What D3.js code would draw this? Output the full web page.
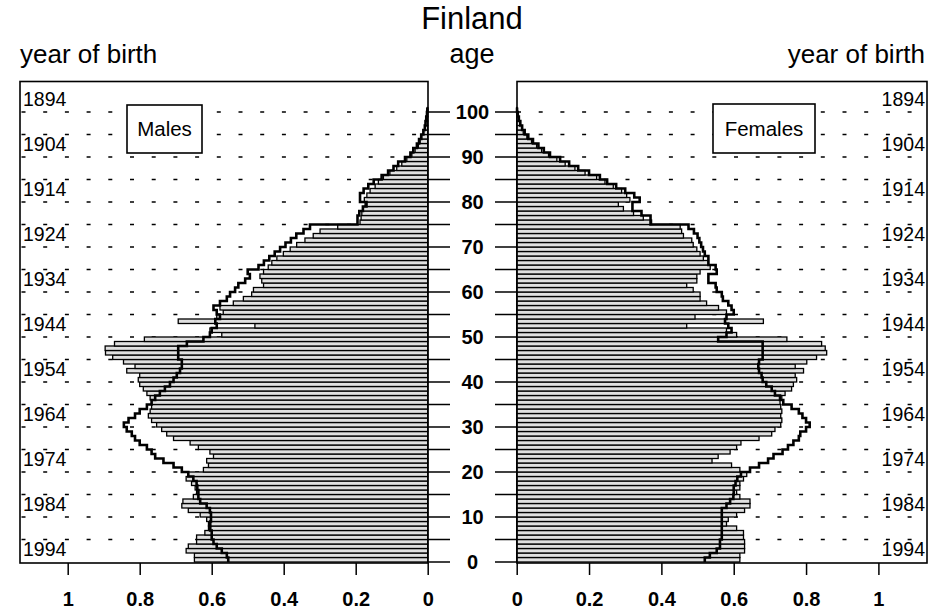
<!DOCTYPE html>
<html>
<head>
<meta charset="utf-8">
<script src="https://cdnjs.cloudflare.com/ajax/libs/d3/7.8.5/d3.min.js"></script>
<style>
  body { margin: 0; background: #fff; }
  svg { font-family: "Liberation Sans", Arial, Helvetica, sans-serif; }
</style>
</head>
<body>
<div id="chart"></div>
<script>
// ages 0..100, relative population
var ages = d3.range(0, 101);

var maleBars = [
  0.648, 0.648, 0.671, 0.665, 0.642, 0.642, 0.619, 0.609, 0.609, 0.614,
  0.632, 0.665, 0.683, 0.680, 0.651, 0.642, 0.646, 0.656, 0.671, 0.665,
  0.623, 0.609, 0.614, 0.595, 0.605, 0.637, 0.660, 0.706, 0.725, 0.739,
  0.753, 0.767, 0.776, 0.771, 0.767, 0.767, 0.771, 0.780, 0.790, 0.800,
  0.804, 0.800, 0.836, 0.813, 0.845, 0.875, 0.895, 0.896, 0.870, 0.787,
  0.572, 0.605, 0.480, 0.693, 0.586, 0.568, 0.577, 0.540, 0.512, 0.489,
  0.484, 0.456, 0.461, 0.466, 0.456, 0.443, 0.433, 0.419, 0.401, 0.382,
  0.364, 0.341, 0.318, 0.299, 0.250, 0.188, 0.185, 0.183, 0.179, 0.174,
  0.176, 0.169, 0.160, 0.146, 0.137, 0.123, 0.105, 0.086, 0.072, 0.058,
  0.044, 0.035, 0.026, 0.021, 0.017, 0.012, 0.008, 0.006, 0.004, 0.002,
  0.001
];

var maleLine = [
  0.554, 0.558, 0.572, 0.586, 0.595, 0.600, 0.600, 0.604, 0.604, 0.602,
  0.602, 0.605, 0.614, 0.632, 0.637, 0.637, 0.640, 0.642, 0.651, 0.665,
  0.683, 0.706, 0.734, 0.757, 0.767, 0.780, 0.800, 0.813, 0.822, 0.836,
  0.844, 0.831, 0.813, 0.800, 0.780, 0.767, 0.757, 0.744, 0.730, 0.716,
  0.706, 0.697, 0.688, 0.683, 0.683, 0.693, 0.693, 0.693, 0.669, 0.623,
  0.605, 0.600, 0.586, 0.590, 0.577, 0.586, 0.595, 0.577, 0.558, 0.549,
  0.535, 0.526, 0.507, 0.494, 0.500, 0.470, 0.455, 0.440, 0.425, 0.410,
  0.395, 0.380, 0.365, 0.345, 0.327, 0.195, 0.195, 0.190, 0.180, 0.170,
  0.188, 0.188, 0.178, 0.165, 0.150, 0.128, 0.110, 0.095, 0.082, 0.063,
  0.048, 0.040, 0.030, 0.024, 0.018, 0.012, 0.008, 0.006, 0.004, 0.002,
  0.001
];

var femaleBars = [
  0.617, 0.617, 0.630, 0.630, 0.630, 0.627, 0.627, 0.608, 0.580, 0.585,
  0.608, 0.630, 0.645, 0.645, 0.617, 0.608, 0.617, 0.617, 0.627, 0.636,
  0.617, 0.594, 0.540, 0.557, 0.590, 0.608, 0.620, 0.670, 0.705, 0.714,
  0.730, 0.733, 0.730, 0.733, 0.730, 0.728, 0.733, 0.742, 0.760, 0.765,
  0.774, 0.770, 0.793, 0.770, 0.802, 0.829, 0.857, 0.853, 0.843, 0.747,
  0.608, 0.580, 0.470, 0.682, 0.493, 0.580, 0.558, 0.525, 0.507, 0.507,
  0.488, 0.470, 0.498, 0.498, 0.507, 0.535, 0.530, 0.516, 0.507, 0.498,
  0.488, 0.484, 0.461, 0.456, 0.452, 0.373, 0.350, 0.323, 0.295, 0.281,
  0.313, 0.304, 0.290, 0.267, 0.244, 0.221, 0.189, 0.161, 0.134, 0.111,
  0.088, 0.069, 0.055, 0.041, 0.028, 0.018, 0.014, 0.009, 0.005, 0.003,
  0.001
];

var femaleLine = [
  0.520, 0.534, 0.553, 0.562, 0.562, 0.567, 0.567, 0.567, 0.567, 0.567,
  0.567, 0.567, 0.580, 0.590, 0.599, 0.600, 0.600, 0.605, 0.610, 0.620,
  0.645, 0.670, 0.695, 0.710, 0.735, 0.750, 0.765, 0.780, 0.784, 0.800,
  0.810, 0.800, 0.790, 0.780, 0.760, 0.737, 0.728, 0.714, 0.705, 0.690,
  0.680, 0.677, 0.670, 0.668, 0.670, 0.680, 0.680, 0.680, 0.680, 0.557,
  0.580, 0.594, 0.585, 0.576, 0.580, 0.600, 0.594, 0.585, 0.570, 0.567,
  0.553, 0.550, 0.530, 0.530, 0.553, 0.550, 0.530, 0.530, 0.520, 0.515,
  0.510, 0.505, 0.500, 0.490, 0.475, 0.370, 0.370, 0.345, 0.320, 0.320,
  0.340, 0.325, 0.300, 0.275, 0.250, 0.230, 0.200, 0.170, 0.145, 0.120,
  0.092, 0.075, 0.060, 0.045, 0.032, 0.022, 0.015, 0.010, 0.006, 0.003,
  0.001
];

var xTicks = [0, 0.2, 0.4, 0.6, 0.8, 1];
var ageTicks = d3.range(0, 101, 5);
var ageLabels = d3.range(0, 101, 10);
var birthYears = d3.range(1894, 1995, 10);

var width = 947, height = 613;
var panelTop = 81.5, panelBottom = 563;
var leftPanel = [20, 428], rightPanel = [517, 927];

var y = d3.scaleLinear().domain([0, 100]).range([562, 112]);
var xL = d3.scaleLinear().domain([0, 1]).range([427.7, 67.7]);
var xR = d3.scaleLinear().domain([0, 1]).range([516.7, 878.4]);

var svg = d3.select("#chart").append("svg")
  .attr("width", width)
  .attr("height", height);

svg.append("text")
  .attr("x", 472).attr("y", 29)
  .attr("text-anchor", "middle")
  .attr("font-size", 31)
  .text("Finland");
svg.append("text")
  .attr("x", 20).attr("y", 63)
  .attr("font-size", 26)
  .text("year of birth");
svg.append("text")
  .attr("x", 925).attr("y", 63)
  .attr("text-anchor", "end")
  .attr("font-size", 26)
  .text("year of birth");
svg.append("text")
  .attr("x", 472).attr("y", 63)
  .attr("text-anchor", "middle")
  .attr("font-size", 27)
  .text("age");

function panel(x, range, bars, line, side) {
  var g = svg.append("g");

  // dashed guides every 5 years
  g.selectAll(".grid")
    .data(ageTicks.filter(function(d) { return d > 0; }))
    .enter().append("line")
    .attr("x1", range[0]).attr("x2", range[1])
    .attr("y1", function(d) { return y(d); })
    .attr("y2", function(d) { return y(d); })
    .attr("stroke", "#000")
    .attr("stroke-width", 1.4)
    .attr("stroke-dasharray", "4,17.7")
    .attr("stroke-dashoffset", side == "left" ? -1.5 : 0);

  // year of birth labels
  g.selectAll(".year")
    .data(birthYears)
    .enter().append("text")
    .attr("x", side == "left" ? range[0] + 3 : range[1] - 2)
    .attr("y", function(d) { return y(1995.5 - d) + 1; })
    .attr("text-anchor", side == "left" ? "start" : "end")
    .attr("font-size", 19.5)
    .text(function(d) { return d; });

  // one bar per age
  g.selectAll(".bar")
    .data(ages)
    .enter().append("rect")
    .attr("x", function(d) { return Math.min(x(bars[d]), x(0)); })
    .attr("width", function(d) { return Math.abs(x(bars[d]) - x(0)); })
    .attr("y", function(d) { return y(d + 1); })
    .attr("height", function(d) { return y(d) - y(d + 1); })
    .attr("fill", "#e0e0e0")
    .attr("stroke", "#000")
    .attr("stroke-width", 1.3);

  // step outline of the comparison profile
  var pts = [];
  ages.forEach(function(a) {
    pts.push([x(line[a]), y(a)]);
    pts.push([x(line[a]), y(a + 1)]);
  });
  g.append("path")
    .attr("d", d3.line()(pts))
    .attr("fill", "none")
    .attr("stroke", "#000")
    .attr("stroke-width", 2.6)
    .attr("stroke-linejoin", "miter");

  // frame
  g.append("rect")
    .attr("x", range[0]).attr("y", panelTop)
    .attr("width", range[1] - range[0])
    .attr("height", panelBottom - panelTop)
    .attr("fill", "none")
    .attr("stroke", "#000")
    .attr("stroke-width", 1.6);

  // bottom axis
  var axis = d3.axisBottom(x)
    .tickValues(xTicks)
    .tickSize(12)
    .tickFormat(function(d) { return d3.format("")(d); });
  var ax = g.append("g")
    .attr("transform", "translate(0," + panelBottom + ")")
    .call(axis);
  ax.select(".domain").remove();
  ax.selectAll(".tick line").attr("stroke-width", 1.5);
  ax.selectAll(".tick text")
    .attr("y", 29)
    .attr("dy", "0.72em")
    .attr("font-size", 20)
    .attr("font-weight", "bold")
    .attr("font-family", "Liberation Sans, Arial, sans-serif")
    .attr("fill", "#000");

  return g;
}

panel(xL, leftPanel, maleBars, maleLine, "left");
panel(xR, rightPanel, femaleBars, femaleLine, "right");

// legend boxes
var legends = [
  {label: "Males", x: 127, w: 75, y: 105, h: 48},
  {label: "Females", x: 713, w: 102, y: 104, h: 49}
];
var lg = svg.selectAll(".legend")
  .data(legends)
  .enter().append("g");
lg.append("rect")
  .attr("x", function(d) { return d.x; })
  .attr("y", function(d) { return d.y; })
  .attr("width", function(d) { return d.w; })
  .attr("height", function(d) { return d.h; })
  .attr("fill", "#fff")
  .attr("stroke", "#000")
  .attr("stroke-width", 1.6);
lg.append("text")
  .attr("x", function(d) { return d.x + d.w / 2; })
  .attr("y", function(d) { return d.y + d.h / 2 + 7; })
  .attr("text-anchor", "middle")
  .attr("font-size", 20.5)
  .text(function(d) { return d.label; });

// central age axis
var mid = svg.append("g");
mid.selectAll(".tickL")
  .data(ageTicks)
  .enter().append("line")
  .attr("x1", 428).attr("x2", 450)
  .attr("y1", function(d) { return y(d); })
  .attr("y2", function(d) { return y(d); })
  .attr("stroke", "#000").attr("stroke-width", 1.5);
mid.selectAll(".tickR")
  .data(ageTicks)
  .enter().append("line")
  .attr("x1", 495).attr("x2", 517)
  .attr("y1", function(d) { return y(d); })
  .attr("y2", function(d) { return y(d); })
  .attr("stroke", "#000").attr("stroke-width", 1.5);
mid.selectAll(".ageLabel")
  .data(ageLabels)
  .enter().append("text")
  .attr("x", 472.5)
  .attr("y", function(d) { return y(d); })
  .attr("dy", "0.36em")
  .attr("text-anchor", "middle")
  .attr("font-size", 20)
  .attr("font-weight", "bold")
  .text(function(d) { return d; });
</script>
</body>
</html>
